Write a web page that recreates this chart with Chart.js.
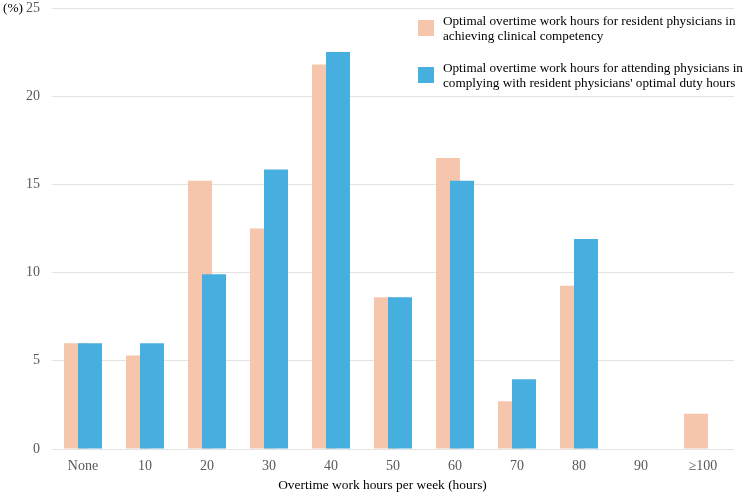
<!DOCTYPE html>
<html>
<head>
<meta charset="utf-8">
<script src="https://cdn.jsdelivr.net/npm/chart.js@4/dist/chart.umd.min.js"></script>
<style>
html,body{margin:0;padding:0;background:#fff;}
#wrap{position:relative;width:753px;height:495px;}
</style>
</head>
<body>
<div id="wrap"><canvas id="c" width="753" height="495"></canvas></div>
<script>
const categories = ['None','10','20','30','40','50','60','70','80','90','\u2265100'];
const residentValues = [6.0, 5.3, 15.2, 12.5, 21.8, 8.6, 16.5, 2.7, 9.25, 0, 2.0];
const attendingValues = [6.0, 6.0, 9.9, 15.85, 22.5, 8.6, 15.2, 3.95, 11.9, 0, 0];
const seriesLabels = [
  ['Optimal overtime work hours for resident physicians in', 'achieving clinical competency'],
  ['Optimal overtime work hours for attending physicians in', "complying with resident physicians' optimal duty hours"]
];
const yTicks = [0, 5, 10, 15, 20, 25];
const yUnit = '(%)';
const xTitle = 'Overtime work hours per week (hours)';

const PEACH = '#F5C6AC';
const BLUE = '#47AFE0';
const SERIF = '"Liberation Serif", "Times New Roman", serif';

const orderPlugin = {
  id: 'drawOrder',
  beforeDatasetsDraw(chart) {
    chart.getDatasetMeta(0).controller.draw();
    chart.getDatasetMeta(1).controller.draw();
    return false;
  }
};

const textPlugin = {
  id: 'texts',
  afterDraw(chart) {
    const ctx = chart.ctx;
    ctx.save();
    ctx.fillStyle = '#000';
    ctx.textBaseline = 'middle';
    ctx.font = '13.4px ' + SERIF;
    ctx.textAlign = 'left';
    ctx.fillText(yUnit, 3, 8);
    ctx.textAlign = 'center';
    ctx.fillText(xTitle, 382.5, 485);
    // legend
    ctx.font = '13.2px ' + SERIF;
    const colors = [PEACH, BLUE];
    const tops = [20, 67];
    ctx.textAlign = 'left';
    for (let i = 0; i < 2; i++) {
      ctx.fillStyle = colors[i];
      ctx.fillRect(418, tops[i], 16, 16);
      ctx.fillStyle = '#000';
      seriesLabels[i].forEach((line, j) => {
        ctx.fillText(line, 443, tops[i] + 2 + j * 15);
      });
    }
    ctx.restore();
  }
};

new Chart(document.getElementById('c'), {
  type: 'bar',
  data: {
    labels: categories,
    datasets: [
      { label: seriesLabels[0].join(' '), data: residentValues, backgroundColor: PEACH, borderWidth: 0,
        categoryPercentage: 28/62, barPercentage: 24/14 },
      { label: seriesLabels[1].join(' '), data: attendingValues, backgroundColor: BLUE, borderWidth: 0,
        categoryPercentage: 28/62, barPercentage: 24/14 }
    ]
  },
  options: {
    responsive: false,
    animation: false,
    devicePixelRatio: 1,
    layout: { padding: { left: 0, right: 19, top: 8, bottom: 0 } },
    plugins: { legend: { display: false }, tooltip: { enabled: false } },
    scales: {
      x: {
        grid: { display: false },
        border: { display: false },
        ticks: { color: '#595959', font: { family: SERIF, size: 14 }, padding: 1, maxRotation: 0, autoSkip: false },
        afterFit(scale) { scale.height = 46; scale.paddingLeft = 0; scale.paddingRight = 0; }
      },
      y: {
        min: 0, max: 25,
        afterBuildTicks(scale) { scale.ticks = yTicks.map(v => ({ value: v })); },
        grid: { color: '#E4E4E4', drawTicks: false, lineWidth: 1 },
        border: { display: false },
        ticks: { color: '#595959', font: { family: SERIF, size: 14 }, padding: 12 },
        afterFit(scale) { scale.width = 52; scale.paddingTop = 0; scale.paddingBottom = 0; }
      }
    }
  },
  plugins: [orderPlugin, textPlugin]
});
</script>
</body>
</html>
